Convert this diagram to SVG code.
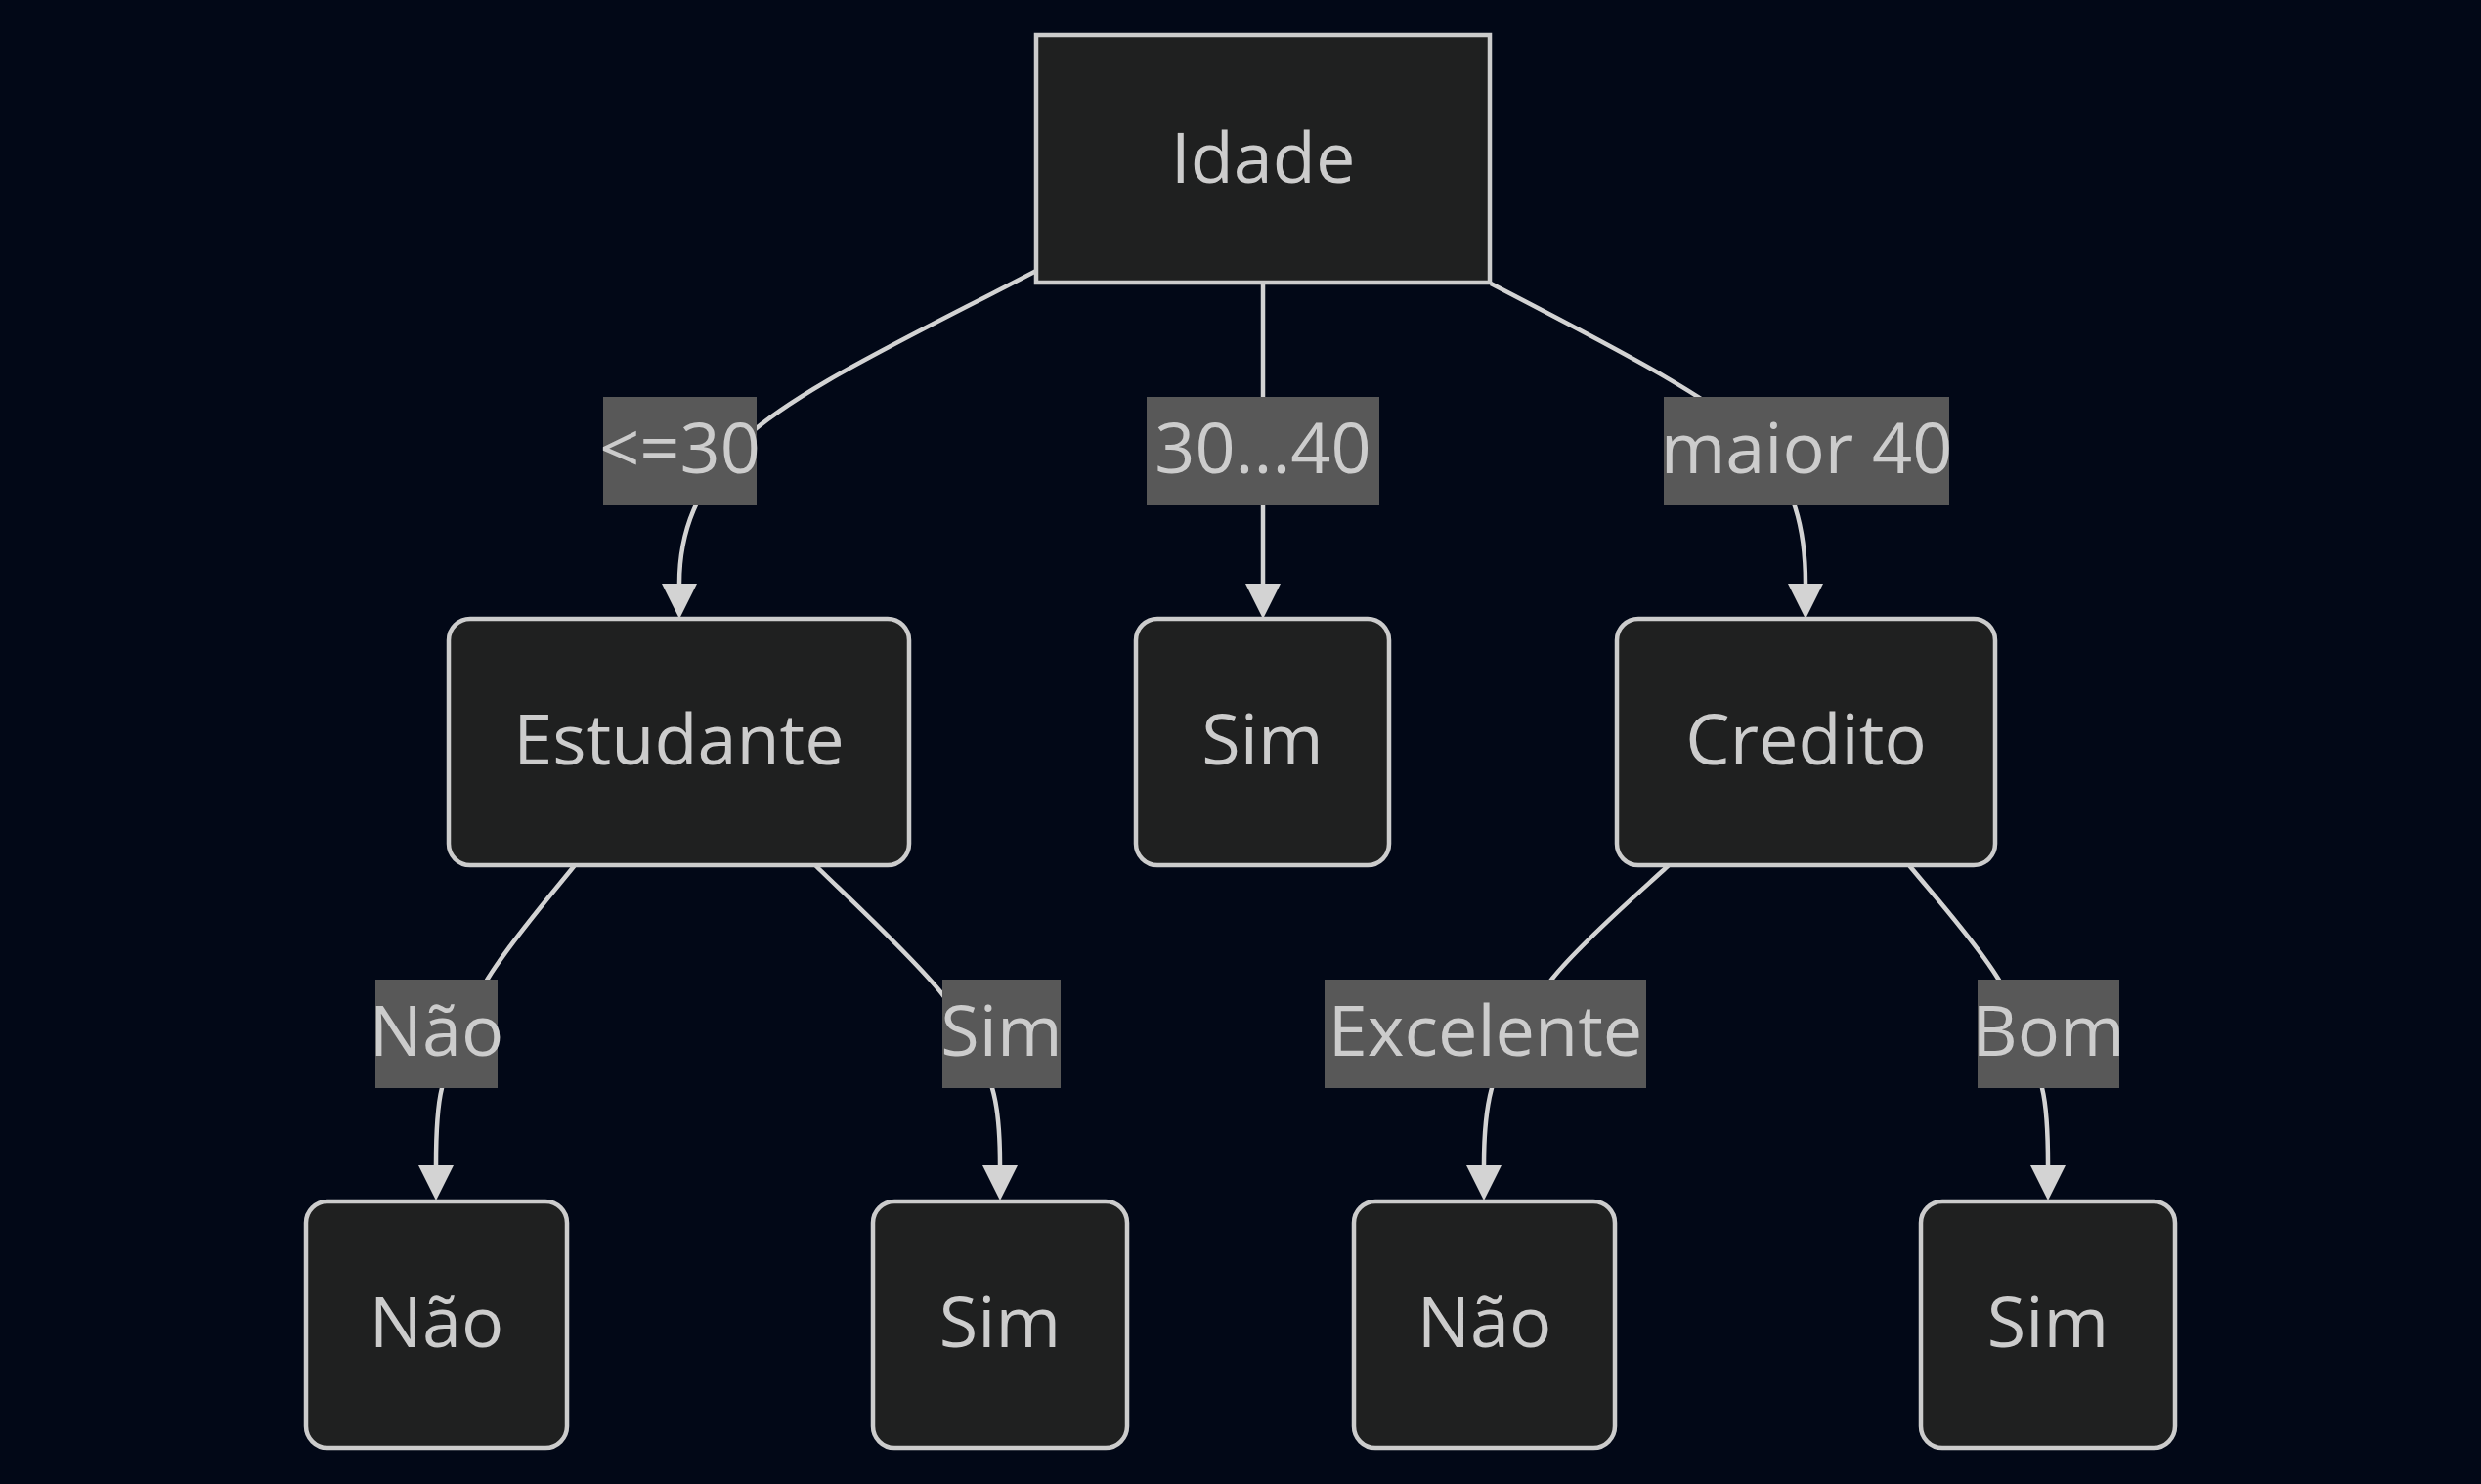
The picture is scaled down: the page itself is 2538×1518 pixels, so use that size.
<svg xmlns="http://www.w3.org/2000/svg" width="2538" height="1518" viewBox="0 0 2538 1518">
<defs>
<style>
.node rect{fill:#1f2020;stroke:#cccccc;stroke-width:4.5}
.node text,.elabel text{font-family:"Open Sans","Noto Sans","DejaVu Sans",sans-serif;font-size:72px;fill:#cccccc;text-anchor:middle}
.edge{fill:none;stroke:#d3d3d3;stroke-width:4.5}
.elabel rect{fill:#585858}
</style>
<marker id="arrow" viewBox="0 0 10 10" refX="0" refY="5" markerWidth="36" markerHeight="36" markerUnits="userSpaceOnUse" orient="auto">
<path d="M0,0 L10,5 L0,10 z" fill="#d3d3d3"/>
</marker>
</defs>
<rect x="0" y="0" width="2538" height="1518" fill="#020817"/>
<g id="connectors">
<path class="edge" marker-end="url(#arrow)" d="M1060,277 C930,345 800,405 750,460 C715,500 695,540 695,597"/>
<path class="edge" marker-end="url(#arrow)" d="M1292,290 L1292,597"/>
<path class="edge" marker-end="url(#arrow)" d="M1525,290 C1640,350 1760,410 1800,455 C1835,495 1847,540 1847,597"/>
<path class="edge" marker-end="url(#arrow)" d="M588,885 C573,904 522,963 499,1001 C476,1039 461,1081 452,1113 C447,1133 446,1160 446,1192"/>
<path class="edge" marker-end="url(#arrow)" d="M834,885 C856,907 934,979 964,1017 C994,1055 1005,1084 1015,1113 C1021,1133 1023,1160 1023,1192"/>
<path class="edge" marker-end="url(#arrow)" d="M1707,885 C1687,904 1618,963 1588,1001 C1558,1039 1538,1081 1526,1113 C1520,1135 1518,1160 1518,1192"/>
<path class="edge" marker-end="url(#arrow)" d="M1953,885 C1968,904 2021,963 2044,1001 C2067,1039 2080,1081 2089,1113 C2094,1133 2095,1160 2095,1192"/>
</g>
<g id="edge-labels">
<g class="elabel" id="label-le30"><rect x="617" y="406" width="157" height="111"/><text x="695.5" y="484">&lt;=30</text></g>
<g class="elabel" id="label-30-40"><rect x="1173" y="406" width="238" height="111"/><text x="1292" y="484">30...40</text></g>
<g class="elabel" id="label-maior40"><rect x="1702" y="406" width="292" height="111"/><text x="1848" y="484">maior 40</text></g>
<g class="elabel" id="label-nao"><rect x="384" y="1002" width="125" height="111"/><text x="446.5" y="1080">Não</text></g>
<g class="elabel" id="label-sim"><rect x="964" y="1002" width="121" height="111"/><text x="1024.5" y="1080">Sim</text></g>
<g class="elabel" id="label-excelente"><rect x="1355" y="1002" width="329" height="111"/><text x="1519.5" y="1080">Excelente</text></g>
<g class="elabel" id="label-bom"><rect x="2023" y="1002" width="145" height="111"/><text x="2095.5" y="1080">Bom</text></g>
</g>
<g id="node-idade" class="node"><rect x="1060" y="36" width="464" height="253"/><text x="1292" y="187">Idade</text></g>
<g id="node-estudante" class="node"><rect x="459" y="633" width="471" height="252" rx="22" ry="22"/><text x="694.5" y="782">Estudante</text></g>
<g id="node-sim-mid" class="node"><rect x="1162" y="633" width="259" height="252" rx="22" ry="22"/><text x="1291.5" y="782">Sim</text></g>
<g id="node-credito" class="node"><rect x="1654" y="633" width="387" height="252" rx="22" ry="22"/><text x="1847.5" y="782">Credito</text></g>
<g id="node-nao-1" class="node"><rect x="313" y="1229" width="267" height="252" rx="22" ry="22"/><text x="446.5" y="1378">Não</text></g>
<g id="node-sim-1" class="node"><rect x="893" y="1229" width="260" height="252" rx="22" ry="22"/><text x="1023" y="1378">Sim</text></g>
<g id="node-nao-2" class="node"><rect x="1385" y="1229" width="267" height="252" rx="22" ry="22"/><text x="1518.5" y="1378">Não</text></g>
<g id="node-sim-2" class="node"><rect x="1965" y="1229" width="260" height="252" rx="22" ry="22"/><text x="2095" y="1378">Sim</text></g>
</svg>
